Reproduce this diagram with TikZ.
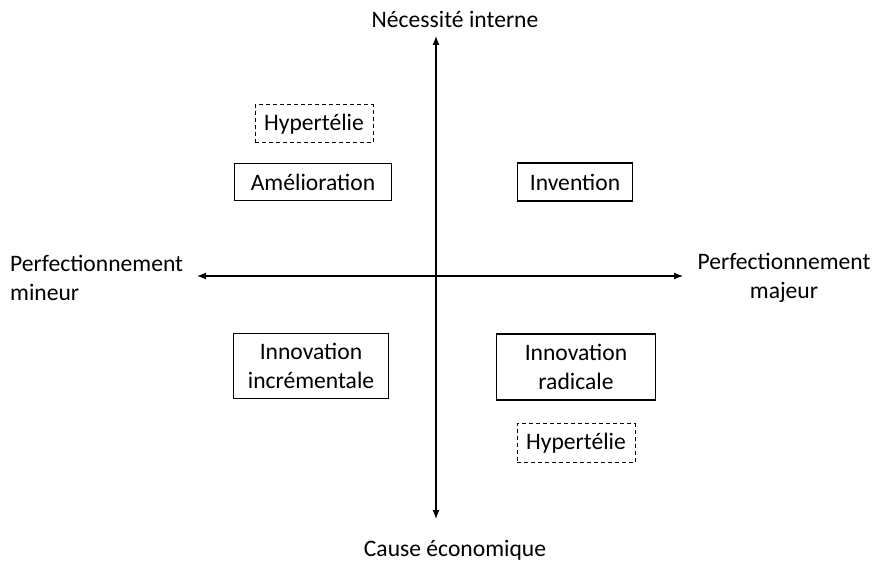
\documentclass[tikz,border=0pt]{standalone}
\usepackage{fontspec}
\setmainfont{Carlito}
\usepackage{tikz}
\usetikzlibrary{arrows.meta,positioning}

\tikzset{
  quadbox/.style={draw, line width=1.2pt, align=center, inner sep=0pt, minimum height=40pt},
  hyperbox/.style={quadbox, line width=1pt, dash pattern=on 4pt off 3pt},
  axislabel/.style={align=center, inner sep=0pt}
}

\begin{document}
\begin{tikzpicture}[x=1pt, y=-1pt, >={Latex[length=9pt,width=7pt]}, font=\fontsize{23.6}{29}\selectfont]

 % fixed frame, same proportions as the page
 \useasboundingbox (0,0) rectangle (872,564);

 % ends of the two axes
 \coordinate (Top) at (436,36);
 \coordinate (Bottom) at (436,519);
 \coordinate (Left) at (197,276);
 \coordinate (Right) at (683,276);

 \draw[<->, line width=1.2pt] (Bottom) -- (Top);
 \draw[<->, line width=1.2pt] (Left) -- (Right);

 % axis labels
 \node[axislabel] (Interne) at (455,19) {Nécessité interne};
 \node[axislabel] (Economique) at (455,550) {Cause économique};
 \node[axislabel, align=left, anchor=west] (Mineur) at (10,278) {Perfectionnement\\mineur};
 \node[axislabel] (Majeur) at (784,278) {Perfectionnement\\majeur};

 % upper quadrants
 \node[hyperbox, minimum width=118pt, minimum height=38pt] (HyperHaut) at (314,124) {Hypertélie};
 \node[quadbox, minimum width=157pt, minimum height=37pt] (Amelioration) at (313,182) {Amélioration};
 \node[quadbox, minimum width=115pt, minimum height=38pt] (Invention) at (575,182) {Invention};

 % lower quadrants
 \node[quadbox, minimum width=155pt, minimum height=65pt] (Incrementale) at (311,366) {Innovation\\incrémentale};
 \node[quadbox, minimum width=159pt, minimum height=66pt] (Radicale) at (576,367) {Innovation\\radicale};
 \node[hyperbox, minimum width=118pt, minimum height=39pt] (HyperBas) at (576,443) {Hypertélie};

\end{tikzpicture}
\end{document}
